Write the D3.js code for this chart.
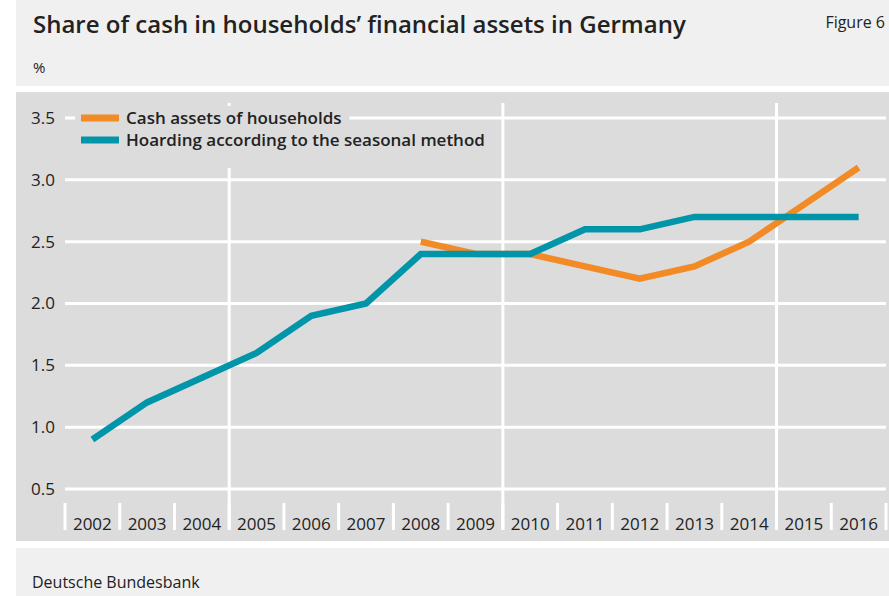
<!DOCTYPE html>
<html>
<head>
<meta charset="utf-8">
<script src="https://cdn.jsdelivr.net/npm/d3@7"></script>
<style>
  body { margin: 0; background: #fff; }
  text { font-family: "Open Sans", "Noto Sans", sans-serif; fill: #222; }
</style>
</head>
<body>
<svg width="889" height="596"></svg>
<script>
var years = ["2002", "2003", "2004", "2005", "2006", "2007", "2008", "2009",
             "2010", "2011", "2012", "2013", "2014", "2015", "2016"];
var cashAssets = [null, null, null, null, null, null, 2.5, 2.4,
                  2.4, 2.3, 2.2, 2.3, 2.5, 2.8, 3.1];
var hoarding = [0.9, 1.2, 1.4, 1.6, 1.9, 2.0, 2.4, 2.4,
                2.4, 2.6, 2.6, 2.7, 2.7, 2.7, 2.7];
var yTicks = [0.5, 1.0, 1.5, 2.0, 2.5, 3.0, 3.5];
var gridYears = ["2005", "2010", "2015"];
var seriesNames = ["Cash assets of households", "Hoarding according to the seasonal method"];
var seriesColors = ["#f28a25", "#0095a8"];

var svg = d3.select("svg");

// panels
svg.append("rect").attr("x", 16).attr("y", 0).attr("width", 873).attr("height", 86).attr("fill", "#f0f0f0");
svg.append("rect").attr("x", 16).attr("y", 92).attr("width", 873).attr("height", 449).attr("fill", "#dcdcdc");
svg.append("rect").attr("x", 16).attr("y", 548).attr("width", 873).attr("height", 48).attr("fill", "#f0f0f0");

svg.append("text").attr("x", 33).attr("y", 33)
    .style("font-size", "24px").style("font-weight", 600)
    .text("Share of cash in households\u2019 financial assets in Germany");
svg.append("text").attr("x", 885).attr("y", 28).attr("text-anchor", "end")
    .style("font-size", "16px").text("Figure 6");
svg.append("text").attr("x", 33).attr("y", 73).style("font-size", "15px").text("%");
svg.append("text").attr("x", 32).attr("y", 588).style("font-size", "16px").text("Deutsche Bundesbank");

var x = d3.scaleBand().domain(years).range([65, 886]);
var y = d3.scaleLinear().domain([0.5, 3.5]).range([489, 118]);

// horizontal grid
svg.append("g").selectAll("line").data(yTicks).enter().append("line")
    .attr("x1", 65).attr("x2", 886)
    .attr("y1", function (d) { return y(d); })
    .attr("y2", function (d) { return y(d); })
    .attr("stroke", "#fff").attr("stroke-width", 3);

// vertical grid
svg.append("g").selectAll("line").data(gridYears).enter().append("line")
    .attr("x1", function (d) { return x(d); })
    .attr("x2", function (d) { return x(d); })
    .attr("y1", 103).attr("y2", 530)
    .attr("stroke", "#fff").attr("stroke-width", 3);

// y labels
svg.append("g").selectAll("text").data(yTicks).enter().append("text")
    .attr("x", 55).attr("y", function (d) { return y(d); })
    .attr("dy", "0.35em").attr("text-anchor", "end")
    .style("font-size", "17px")
    .text(function (d) { return d3.format(".1f")(d); });

// x separators and labels
var bounds = years.map(function (d) { return x(d); }).concat([x.range()[1]]);
svg.append("g").selectAll("line").data(bounds).enter().append("line")
    .attr("x1", function (d) { return d; }).attr("x2", function (d) { return d; })
    .attr("y1", 503).attr("y2", 530)
    .attr("stroke", "#fff").attr("stroke-width", 3);
svg.append("g").selectAll("text").data(years).enter().append("text")
    .attr("x", function (d) { return x(d) + x.bandwidth() / 2; })
    .attr("y", 530).attr("text-anchor", "middle")
    .style("font-size", "17px")
    .text(function (d) { return d; });

// legend
var legend = svg.append("g");
seriesNames.forEach(function (name, i) {
    var row = legend.append("g").attr("transform", "translate(0," + (118 + i * 22) + ")");
    var t = row.append("text").attr("x", 126).attr("dy", "0.35em")
        .style("font-size", "17px").style("font-weight", 600).text(name);
    var w = t.node().getComputedTextLength();
    row.insert("rect", "text").attr("x", 75).attr("y", -12).attr("width", 126 + w + 8 - 75)
        .attr("height", i === 1 ? 40 : 24).attr("fill", "#dcdcdc");
    row.insert("rect", "text").attr("x", 81).attr("y", -3.5).attr("width", 38).attr("height", 7)
        .attr("fill", seriesColors[i]);
});

// lines
var line = d3.line()
    .defined(function (d) { return d != null; })
    .x(function (d, i) { return x(years[i]) + x.bandwidth() / 2; })
    .y(function (d) { return y(d); });

[cashAssets, hoarding].forEach(function (s, i) {
    svg.append("path").datum(s)
        .attr("fill", "none").attr("stroke", seriesColors[i])
        .attr("stroke-width", 6.5)
        .attr("d", line);
});
</script>
</body>
</html>
